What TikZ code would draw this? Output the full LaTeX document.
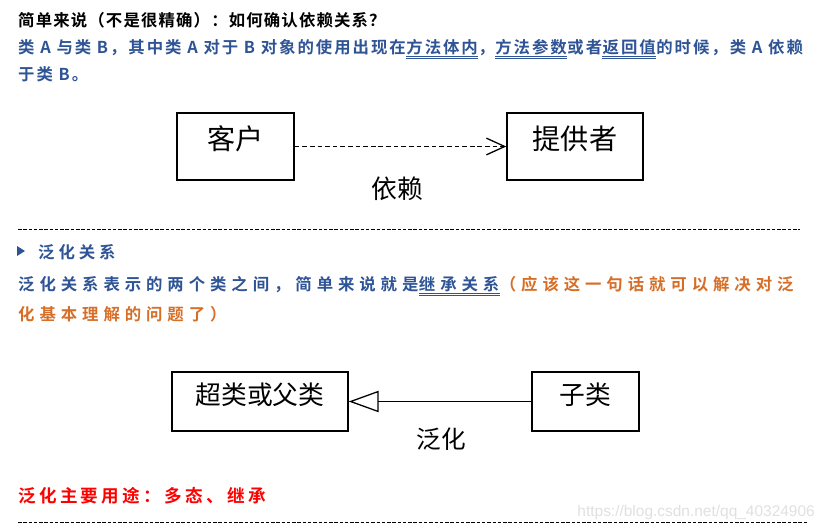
\documentclass[tikz,border=0pt]{standalone}
\usepackage{fontspec}
\usetikzlibrary{arrows.meta}

\newfontfamily\cjk{Noto Sans CJK SC}
\newfontfamily\cjkb{Noto Sans CJK SC Bold}
\newfontfamily\wmfont{Liberation Sans}

\definecolor{noteblue}{RGB}{47,84,150}
\definecolor{noteorange}{RGB}{214,110,40}
\definecolor{notered}{RGB}{255,0,0}

% double underline for the marked words
\newcommand\dblul[1]{\tikz[baseline=(ul.base)]{\node[inner sep=0pt] (ul) {#1};
  \draw[noteblue, line width=0.5pt] ([yshift=-2.6pt]ul.base west) -- ([yshift=-2.6pt]ul.base east);
  \draw[noteblue, line width=0.5pt] ([yshift=-4.2pt]ul.base west) -- ([yshift=-4.2pt]ul.base east);}}

\tikzset{
  txt/.style={anchor=base west, inner sep=0pt,
    font=\cjkb\addfontfeatures{LetterSpace=#1}\fontsize{14}{17}\selectfont},
  txt/.default=12,
  classbox/.style={draw, line width=1.2pt, inner sep=0pt, text height=14pt, text depth=9.5pt},
  rellabel/.style={inner sep=0pt, font=\cjk\fontsize{22}{26}\selectfont},
  sepline/.style={dash pattern=on 3pt off 1.5pt, line width=0.6pt}
}

\begin{document}
\begin{tikzpicture} [x=0.03cm,y=-0.03cm]

\useasboundingbox (0,0) rectangle (825,529);

% text at the top
\node [txt=7] (q1) at (18,26) {简单来说（不是很精确）：如何确认依赖关系？};
\node [txt=12, text=noteblue] (q2) at (18,53) {类 A 与类 B，其中类 A 对于 B 对象的使用出现在\dblul{方法体内}，\dblul{方法参数}或者\dblul{返回值}的时候，类 A 依赖};
\node [txt=12, text=noteblue] (q3) at (18,80) {于类 B。};

% dependency
\node [classbox, minimum width=3.51cm, minimum height=2.01cm, font=\cjk\fontsize{24}{28}\selectfont] (client) at (235.5,146.5) {客户};
\node [classbox, minimum width=4.08cm, minimum height=2.01cm, font=\cjk\fontsize{24}{28}\selectfont] (supplier) at (575,146.5) {提供者};
\draw [line width=1.1pt, dash pattern=on 4pt off 2.5pt, -{Straight Barb[length=0.55cm, width=0.5cm]}] (client.east) -- (supplier.west);
\node [rellabel] (dep) at (397,189) {依赖};

\draw [sepline] (18,229) -- (800,229);

% generalization
\fill [noteblue] (17,246) -- (25,251) -- (17,256) -- cycle;
\node [txt=24, text=noteblue] (g1) at (38,258) {泛化关系};
\node [txt=30, text=noteblue] (g2) at (18,290) {泛化关系表示的两个类之间，简单来说就是\dblul{继承关系}\textcolor{noteorange}{（应该这一句话就可以解决对泛}};
\node [txt=30, text=noteorange] (g3) at (18,320) {化基本理解的问题了）};

\node [classbox, minimum width=5.28cm, minimum height=1.77cm, font=\cjk\fontsize{22}{26}\selectfont] (super) at (260,401.5) {超类或父类};
\node [classbox, minimum width=3.21cm, minimum height=1.77cm, font=\cjk\fontsize{22}{26}\selectfont] (sub) at (585.5,401.5) {子类};
\draw [line width=1.1pt, -{Triangle[open, length=0.9cm, width=0.64cm]}] (sub.west) -- (super.east);
\node [rellabel, font=\cjk\fontsize{21}{25}\selectfont] (gen) at (441,439) {泛化};

\node [txt, text=notered, font=\cjkb\addfontfeatures{LetterSpace=19}\fontsize{15}{18}\selectfont] (use) at (18,502) {泛化主要用途：多态、继承};
\node [anchor=base east, inner sep=0pt, text=black!12, font=\wmfont\fontsize{13.2}{15}\selectfont] (wm) at (815,516) {https://blog.csdn.net/qq\_40324906};

\draw [sepline] (18,522) -- (808,522);

\end{tikzpicture}
\end{document}
